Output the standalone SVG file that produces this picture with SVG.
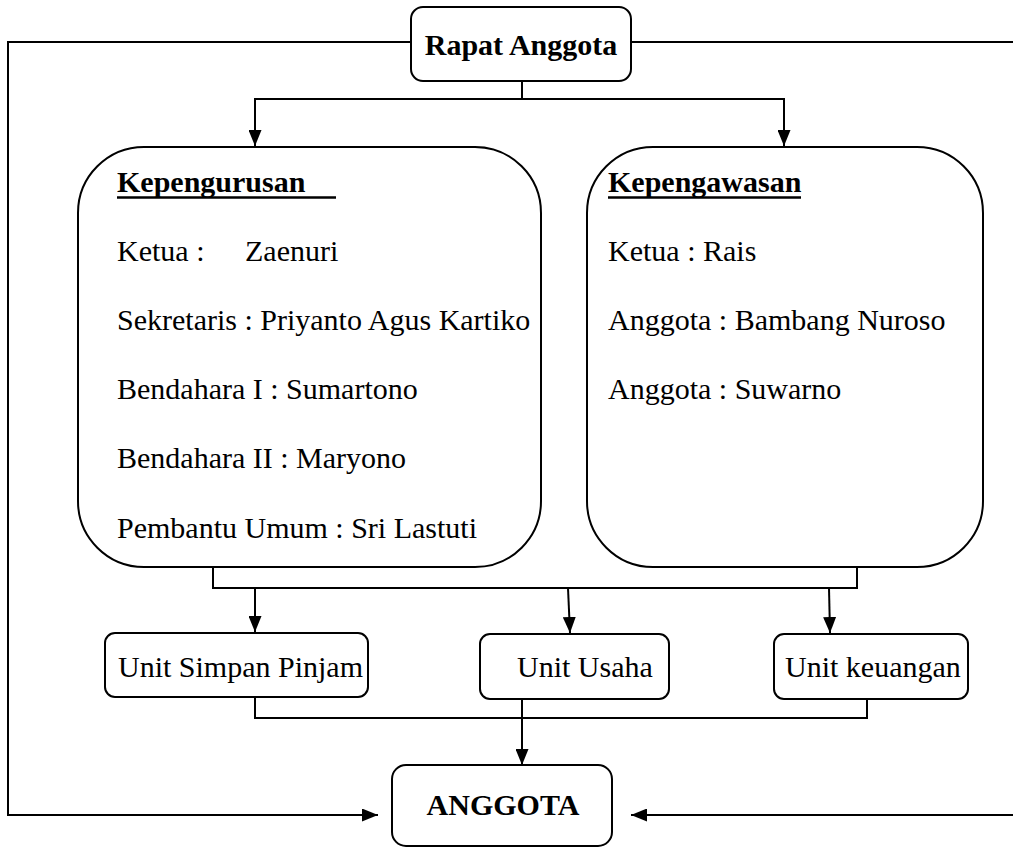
<svg xmlns="http://www.w3.org/2000/svg" width="1013" height="848" viewBox="0 0 1013 848">
<style>
.box{fill:#fff;stroke:#000;stroke-width:2}
.ln{fill:none;stroke:#000;stroke-width:2}
.t{font-family:"Liberation Serif","Times New Roman",serif;font-size:30px;fill:#000}
.b{font-weight:bold}
</style>
<defs>
<marker id="ah" viewBox="0 0 16 13" refX="16" refY="6.5" markerWidth="16" markerHeight="13" markerUnits="userSpaceOnUse" orient="auto">
<path d="M0,0 L16,6.5 L0,13 Z" fill="#000"/>
</marker>
</defs>
<rect width="1013" height="848" fill="#fff"/>
<g id="connectors">
<path class="ln" d="M411,42 H8 V815 H378" marker-end="url(#ah)"/>
<path class="ln" d="M631,42 H1020 V815 H631" marker-end="url(#ah)"/>
<path class="ln" d="M522,81 V99"/>
<path class="ln" d="M522,99 H255 V146" marker-end="url(#ah)"/>
<path class="ln" d="M522,99 H784 V146" marker-end="url(#ah)"/>
<path class="ln" d="M213,567 V588 H857 V567"/>
<path class="ln" d="M255,588 V632" marker-end="url(#ah)"/>
<path class="ln" d="M568,588 L570,633" marker-end="url(#ah)"/>
<path class="ln" d="M829,588 L830,633" marker-end="url(#ah)"/>
<path class="ln" d="M255,697 V718 H867 V699"/>
<path class="ln" d="M522,699 V765" marker-end="url(#ah)"/>
</g>
<g id="rapat-anggota">
<rect class="box" x="411" y="7" width="220" height="74" rx="12"/>
<text class="t b" x="521" y="55" text-anchor="middle" font-size="29">Rapat Anggota</text>
</g>
<g id="kepengurusan">
<rect class="box" x="78" y="147" width="463" height="420" rx="66"/>
<text class="t b" x="117" y="192">Kepengurusan</text>
<line x1="117" y1="197.5" x2="336" y2="197.5" stroke="#000" stroke-width="2.5"/>
<text class="t" x="117" y="261">Ketua :</text>
<text class="t" x="245" y="261">Zaenuri</text>
<text class="t" x="117" y="330">Sekretaris : Priyanto Agus Kartiko</text>
<text class="t" x="117" y="399">Bendahara I : Sumartono</text>
<text class="t" x="117" y="468">Bendahara II : Maryono</text>
<text class="t" x="117" y="538">Pembantu Umum : Sri Lastuti</text>
</g>
<g id="kepengawasan">
<rect class="box" x="587" y="147" width="396" height="420" rx="66"/>
<text class="t b" x="608" y="192">Kepengawasan</text>
<line x1="608" y1="197.5" x2="801" y2="197.5" stroke="#000" stroke-width="2.5"/>
<text class="t" x="608" y="261">Ketua : Rais</text>
<text class="t" x="608" y="330">Anggota : Bambang Nuroso</text>
<text class="t" x="608" y="399">Anggota : Suwarno</text>
</g>
<g id="unit-simpan-pinjam">
<rect class="box" x="105" y="633" width="263" height="64" rx="10"/>
<text class="t" x="118" y="677">Unit Simpan Pinjam</text>
</g>
<g id="unit-usaha">
<rect class="box" x="480" y="634" width="189" height="65" rx="10"/>
<text class="t" x="517" y="677">Unit Usaha</text>
</g>
<g id="unit-keuangan">
<rect class="box" x="774" y="634" width="194" height="65" rx="10"/>
<text class="t" x="785" y="677">Unit keuangan</text>
</g>
<g id="anggota">
<rect class="box" x="392" y="765" width="220" height="81" rx="14"/>
<text class="t b" x="503" y="815" text-anchor="middle">ANGGOTA</text>
</g>
</svg>
